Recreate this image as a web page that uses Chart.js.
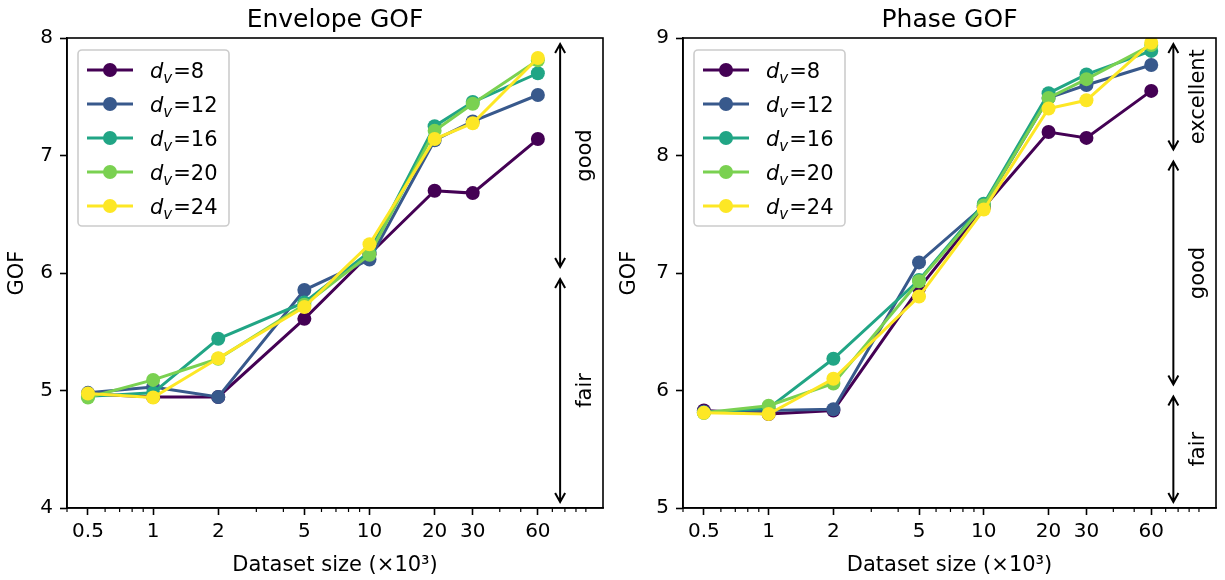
<!DOCTYPE html>
<html>
<head>
<meta charset="utf-8">
<script src="https://cdn.jsdelivr.net/npm/chart.js@4.4.1/dist/chart.umd.min.js"></script>
<style>
  body { margin: 0; background: #fff; }
  #wrap { position: relative; width: 1225px; height: 580px; }
  .panel { position: absolute; top: 0; }
</style>
</head>
<body>
<div id="wrap">
  <div class="panel" style="left:0"><canvas id="envChart" width="612" height="580"></canvas></div>
  <div class="panel" style="left:612px"><canvas id="phaseChart" width="613" height="580"></canvas></div>
</div>
<script>
const FONT = "'DejaVu Sans', sans-serif";

// x positions (dataset size, x10^3)
const sizes = [0.5, 1, 2, 5, 10, 20, 30, 60];
const dims = [8, 12, 16, 20, 24];
const colors = ['#440154', '#38598c', '#21a585', '#7ad151', '#fde725'];

// Envelope GOF, one array per d_v
const envD8  = [4.97, 4.945, 4.945, 5.61, 6.16, 6.70, 6.68, 7.14];
const envD12 = [4.98, 5.03, 4.945, 5.855, 6.115, 7.13, 7.29, 7.515];
const envD16 = [4.95, 4.98, 5.44, 5.75, 6.18, 7.25, 7.455, 7.70];
const envD20 = [4.94, 5.09, 5.27, 5.73, 6.155, 7.21, 7.44, 7.81];
const envD24 = [4.975, 4.94, 5.275, 5.71, 6.245, 7.14, 7.275, 7.83];

// Phase GOF
const phaseD8  = [5.83, 5.80, 5.83, 6.87, 7.56, 8.20, 8.15, 8.55];
const phaseD12 = [5.82, 5.83, 5.84, 7.09, 7.57, 8.49, 8.60, 8.77];
const phaseD16 = [5.81, 5.85, 6.27, 6.94, 7.59, 8.53, 8.69, 8.89];
const phaseD20 = [5.81, 5.87, 6.06, 6.93, 7.575, 8.49, 8.65, 8.94];
const phaseD24 = [5.81, 5.80, 6.10, 6.80, 7.54, 8.40, 8.47, 8.96];

// axis ticks
const xTickValues = [0.5, 1, 2, 5, 10, 20, 30, 60];
const xTickLabels = ['0.5', '1', '2', '5', '10', '20', '30', '60'];
const xMinorTicks = [0.4, 0.6, 0.7, 0.8, 0.9, 3, 4, 6, 7, 8, 9, 40, 50, 70, 80, 90, 100];

// quality bands shown with arrows on the right
const envBandEdges = [[4, 6], [6, 8]];
const envBandLabels = ['fair', 'good'];
const phaseBandEdges = [[5, 6], [6, 8], [8, 9]];
const phaseBandLabels = ['fair', 'good', 'excellent'];

function makeDatasets(series) {
  return series.map((vals, i) => ({
    label: 'd_v=' + dims[i],
    dim: dims[i],
    data: vals.map((v, j) => ({ x: sizes[j], y: v })),
    borderColor: colors[i],
    backgroundColor: colors[i],
    pointBackgroundColor: colors[i],
    pointBorderWidth: 0,
    pointRadius: 7,
    pointHoverRadius: 7,
    borderWidth: 3,
    tension: 0,
    order: series.length - 1 - i
  }));
}

function drawLegendLabel(ctx, x, y, dim) {
  ctx.fillStyle = '#000';
  ctx.textBaseline = 'alphabetic';
  ctx.textAlign = 'left';
  ctx.font = 'italic 21px ' + FONT;
  ctx.fillText('d', x, y);
  x += ctx.measureText('d').width;
  ctx.font = 'italic 15px ' + FONT;
  ctx.fillText('v', x, y + 5);
  x += ctx.measureText('v').width + 1;
  ctx.font = '21px ' + FONT;
  ctx.fillText('=' + dim, x, y);
}

function decorPlugin(bandEdges, bandLabels) {
  return {
    id: 'decor',
    afterDraw(chart) {
      const ctx = chart.ctx;
      const a = chart.chartArea;
      const xs = chart.scales.x, ys = chart.scales.y;
      ctx.save();

      // frame
      ctx.strokeStyle = '#000';
      ctx.lineWidth = 1.6;
      ctx.strokeRect(a.left, a.top, a.right - a.left, a.bottom - a.top);

      // minor log ticks
      ctx.lineWidth = 1.2;
      xMinorTicks.forEach(v => {
        const px = xs.getPixelForValue(v);
        ctx.beginPath();
        ctx.moveTo(px, a.bottom);
        ctx.lineTo(px, a.bottom + 4);
        ctx.stroke();
      });

      // band arrows
      const ax = a.left + 0.92 * (a.right - a.left);
      const tx = a.left + 0.967 * (a.right - a.left);
      ctx.lineWidth = 2;
      bandEdges.forEach((b, i) => {
        const yTop = ys.getPixelForValue(b[1]) + 6;
        const yBot = ys.getPixelForValue(b[0]) - 6;
        ctx.beginPath();
        ctx.moveTo(ax, yTop); ctx.lineTo(ax, yBot);
        ctx.moveTo(ax - 5, yTop + 9); ctx.lineTo(ax, yTop); ctx.lineTo(ax + 5, yTop + 9);
        ctx.moveTo(ax - 5, yBot - 9); ctx.lineTo(ax, yBot); ctx.lineTo(ax + 5, yBot - 9);
        ctx.stroke();
        const yMid = ys.getPixelForValue((b[0] + b[1]) / 2);
        ctx.save();
        ctx.translate(tx, yMid);
        ctx.rotate(-Math.PI / 2);
        ctx.font = '21px ' + FONT;
        ctx.fillStyle = '#000';
        ctx.textAlign = 'center';
        ctx.textBaseline = 'middle';
        ctx.fillText(bandLabels[i], 0, 0);
        ctx.restore();
      });

      // legend
      const lx = a.left + 11, ly = a.top + 12, lw = 151, lh = 176;
      ctx.beginPath();
      ctx.roundRect(lx, ly, lw, lh, 4);
      ctx.fillStyle = 'rgba(255,255,255,0.8)';
      ctx.fill();
      ctx.strokeStyle = '#cccccc';
      ctx.lineWidth = 1.6;
      ctx.stroke();
      chart.data.datasets.forEach((ds, i) => {
        const ry = ly + 20 + i * 34;
        ctx.strokeStyle = ds.borderColor;
        ctx.lineWidth = 3;
        ctx.beginPath();
        ctx.moveTo(lx + 9, ry); ctx.lineTo(lx + 55, ry);
        ctx.stroke();
        ctx.fillStyle = ds.borderColor;
        ctx.beginPath();
        ctx.arc(lx + 32, ry, 7, 0, Math.PI * 2);
        ctx.fill();
        drawLegendLabel(ctx, lx + 72, ry + 8, ds.dim);
      });
      ctx.restore();
    }
  };
}

function makeChart(canvasId, title, series, yMin, yMax, yWidth, bandEdges, bandLabels) {
  return new Chart(document.getElementById(canvasId), {
    type: 'line',
    data: { datasets: makeDatasets(series) },
    options: {
      responsive: false,
      animation: false,
      events: [],
      layout: { padding: { left: 0, right: 9, top: 0, bottom: 0 } },
      plugins: {
        legend: { display: false },
        tooltip: { enabled: false },
        title: {
          display: true,
          text: title,
          fullSize: false,
          color: '#000',
          font: { family: FONT, size: 25, weight: 'normal' },
          padding: { top: 5, bottom: 3 }
        }
      },
      scales: {
        x: {
          type: 'logarithmic',
          min: 0.4,
          max: 120,
          afterBuildTicks: s => { s.ticks = xTickValues.map(v => ({ value: v })); },
          afterFit: s => { s.height = 72; },
          ticks: {
            autoSkip: false,
            maxRotation: 0,
            padding: 5,
            color: '#000',
            font: { family: FONT, size: 20 },
            callback: (v, i) => xTickLabels[i]
          },
          grid: { drawOnChartArea: false, tickLength: 7, tickWidth: 1.6, tickColor: '#000' },
          border: { color: '#000', width: 1.6 },
          title: {
            display: true,
            text: 'Dataset size (×10³)',
            color: '#000',
            font: { family: FONT, size: 21 },
            padding: { top: 0, bottom: 2 }
          }
        },
        y: {
          min: yMin,
          max: yMax,
          afterFit: s => { s.width = yWidth; },
          ticks: {
            stepSize: 1,
            padding: 7,
            color: '#000',
            font: { family: FONT, size: 20 }
          },
          grid: { drawOnChartArea: false, tickLength: 7, tickWidth: 1.6, tickColor: '#000' },
          border: { color: '#000', width: 1.6 },
          title: {
            display: true,
            text: 'GOF',
            color: '#000',
            font: { family: FONT, size: 21 },
            padding: { top: 5, bottom: 0 }
          }
        }
      }
    },
    plugins: [decorPlugin(bandEdges, bandLabels)]
  });
}

makeChart('envChart', 'Envelope GOF',
  [envD8, envD12, envD16, envD20, envD24], 4, 8, 67, envBandEdges, envBandLabels);
makeChart('phaseChart', 'Phase GOF',
  [phaseD8, phaseD12, phaseD16, phaseD20, phaseD24], 5, 9, 71, phaseBandEdges, phaseBandLabels);
</script>
</body>
</html>
